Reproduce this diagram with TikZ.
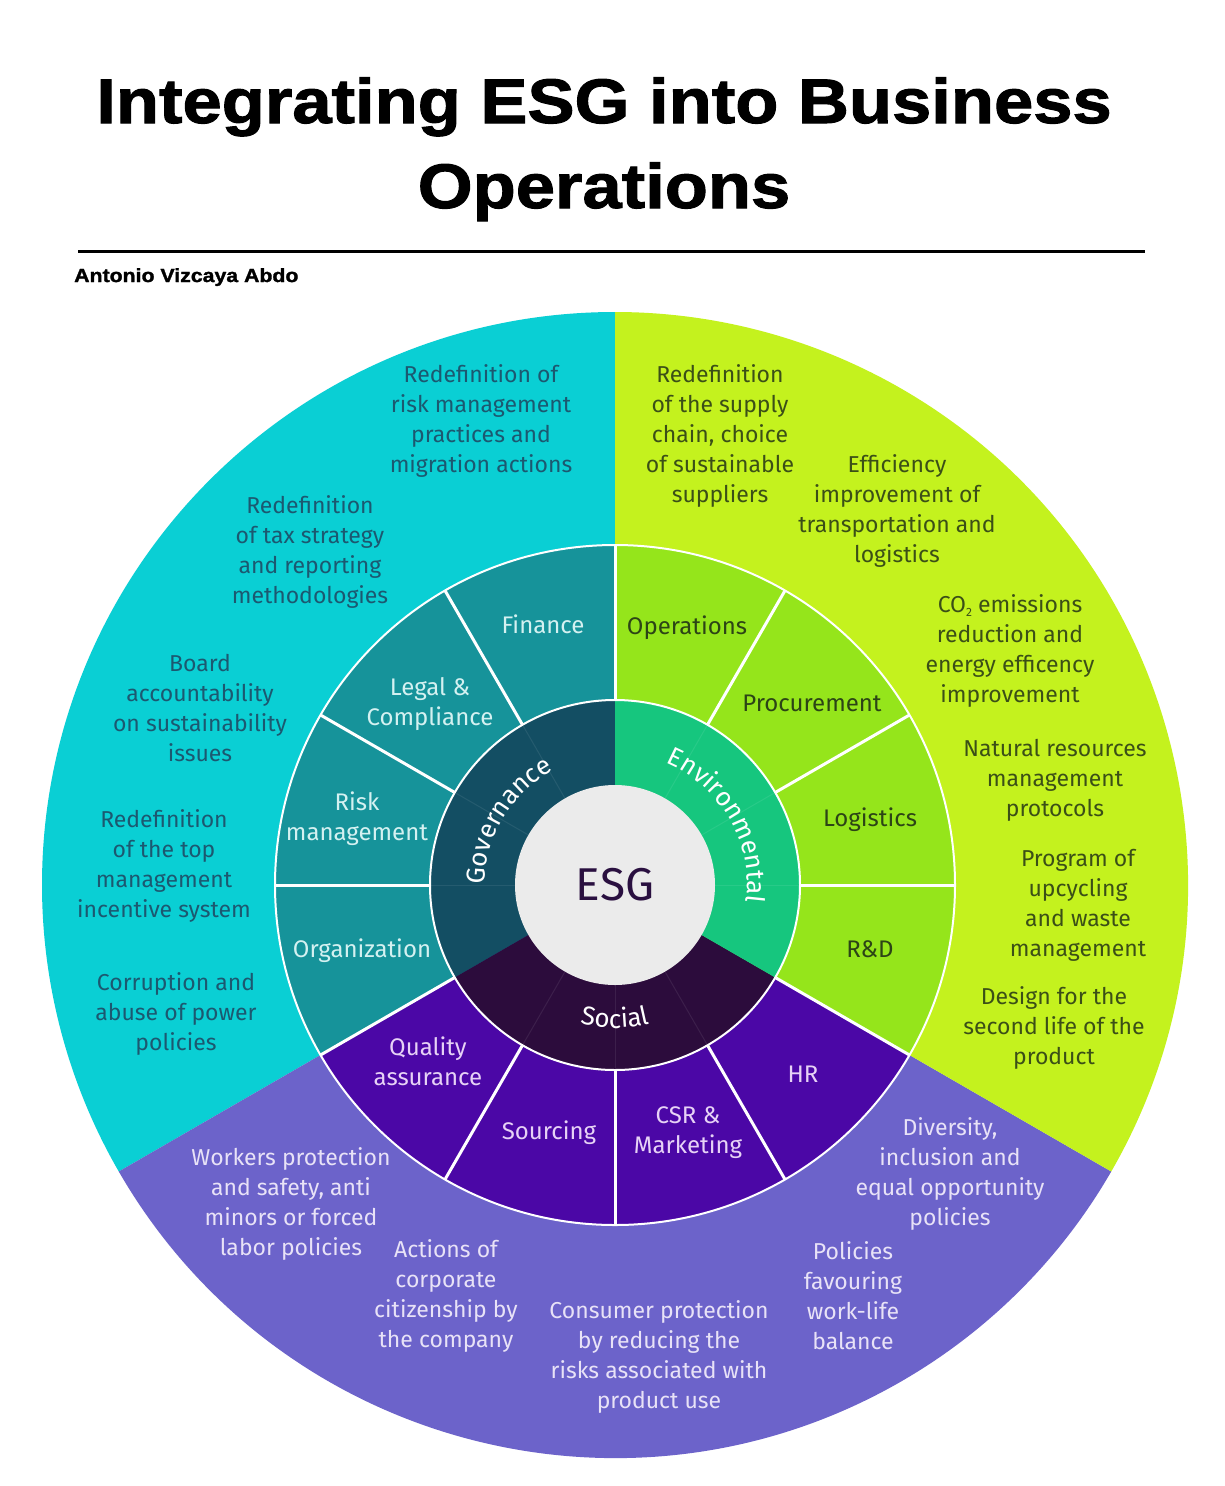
\documentclass[tikz,border=0pt]{standalone}
\usepackage{fontspec}
\setmainfont{Fira Sans}
\newfontfamily\titlefont{Liberation Sans}[FakeStretch=1.12,FakeBold=1.6]
\usetikzlibrary{decorations.text}
\definecolor{govout}{HTML}{0ACFD4}
\definecolor{envout}{HTML}{C4F21E}
\definecolor{socout}{HTML}{6C63CA}
\definecolor{govmid}{HTML}{16939A}
\definecolor{envmid}{HTML}{95E51B}
\definecolor{socmid}{HTML}{4B07A6}
\definecolor{govin}{HTML}{134E63}
\definecolor{envin}{HTML}{16C67E}
\definecolor{socin}{HTML}{2C0C3C}
\definecolor{centergray}{HTML}{EBEBEB}
\definecolor{esgtext}{HTML}{2A1040}
\definecolor{govtext}{HTML}{1C5870}
\definecolor{envtext}{HTML}{3B4F17}
\definecolor{soctext}{HTML}{E8E2F7}
\definecolor{govmidtext}{HTML}{D4F1F1}
\definecolor{envmidtext}{HTML}{2C4416}
\definecolor{socmidtext}{HTML}{E7D2F6}
\begin{document}
\begin{tikzpicture}[x=1pt,y=1pt,
  outertext/.style={align=center, inner sep=0pt, font=\fontsize{23}{30}\selectfont},
  midtext/.style={align=center, inner sep=0pt, font=\fontsize{24}{30}\selectfont},
  gout/.style={outertext, text=govtext},
  eout/.style={outertext, text=envtext},
  sout/.style={outertext, text=soctext},
  gmid/.style={midtext, text=govmidtext},
  emid/.style={midtext, text=envmidtext},
  smid/.style={midtext, text=socmidtext},
  sepline/.style={white, line width=3pt},
  ringline/.style={white, line width=2pt},
  faintline/.style={white, opacity=0.08, line width=1pt},
  arclabel/.style={decorate, decoration={text along path, text align=center,
     text color=white}}
]
\useasboundingbox (0,0) rectangle (1225,-1486);
\fill[white] (0,0) rectangle (1225,-1486);

% title
\node[font=\titlefont\bfseries\fontsize{63}{63}\selectfont, anchor=base] (title1) at (604,-123) {Integrating ESG into Business};
\node[font=\titlefont\bfseries\fontsize{63}{63}\selectfont, anchor=base] (title2) at (604,-208) {Operations};
\coordinate (ruleL) at (78,-251);
\coordinate (ruleR) at (1145,-251);
\draw[line width=3pt] (ruleL) -- (ruleR);
\node[font=\titlefont\bfseries\fontsize{19}{19}\selectfont, anchor=base west, inner sep=0pt] (author) at (74,-282) {Antonio Vizcaya Abdo};

\begin{scope}[shift={(615,-885)}]
\coordinate (C) at (0,0);
% outer ring
\fill[govout] (C) -- (90:573) arc[start angle=90, end angle=210, radius=573] -- cycle;
\fill[socout] (C) -- (210:573) arc[start angle=210, end angle=330, radius=573] -- cycle;
\fill[envout] (C) -- (-30:573) arc[start angle=-30, end angle=90, radius=573] -- cycle;
% middle ring
\fill[govmid] (C) -- (90:340) arc[start angle=90, end angle=210, radius=340] -- cycle;
\fill[socmid] (C) -- (210:340) arc[start angle=210, end angle=330, radius=340] -- cycle;
\fill[envmid] (C) -- (-30:340) arc[start angle=-30, end angle=90, radius=340] -- cycle;
\foreach \a in {0,30,...,330} {\draw[sepline] (\a:185) -- (\a:340);}
\draw[ringline] (C) circle[radius=340];
% inner ring
\fill[govin] (C) -- (90:185) arc[start angle=90, end angle=210, radius=185] -- cycle;
\fill[socin] (C) -- (210:185) arc[start angle=210, end angle=330, radius=185] -- cycle;
\fill[envin] (C) -- (-30:185) arc[start angle=-30, end angle=90, radius=185] -- cycle;
\foreach \a in {0,30,60,120,150,180,240,270,300} {\draw[faintline] (\a:100) -- (\a:185);}
\draw[ringline] (C) circle[radius=185];
% centre
\fill[centergray] (C) circle[radius=100];
\node[font=\fontsize{46}{46}\selectfont, text=esgtext] (esg) at (C) {ESG};
% curved labels
\path[arclabel, decoration={text={|\fontsize{26}{26}\selectfont|Governance}}]
  (205:130) arc[start angle=205, end angle=93, radius=130];
\path[arclabel, decoration={text={|\fontsize{26}{26}\selectfont|Environmental}}]
  (87:132) arc[start angle=87, end angle=-27, radius=132];
\path[arclabel, decoration={text={|\fontsize{26}{26}\selectfont|Social}}]
  (235:143) arc[start angle=235, end angle=305, radius=143];
\end{scope}

% middle ring labels
\node[gmid, text height=17pt, text depth=5pt] (finance) at (543,-627) {Finance};
\node[gmid] (legal) at (430,-704) {Legal \&\\Compliance};
\node[gmid] (risk) at (357,-819) {Risk\\management};
\node[gmid, text height=17pt, text depth=5pt] (organization) at (362,-951) {Organization};
\node[emid, text height=17pt, text depth=5pt] (operations) at (687,-628) {Operations};
\node[emid, text height=17pt, text depth=5pt] (procurement) at (812,-705) {Procurement};
\node[emid, text height=17pt, text depth=5pt] (logistics) at (870,-820) {Logistics};
\node[emid, text height=17pt, text depth=5pt] (rnd) at (870,-951) {R\&D};
\node[smid] (quality) at (428,-1061) {Quality\\assurance};
\node[smid, text height=17pt, text depth=5pt] (sourcing) at (549,-1133) {Sourcing};
\node[smid] (csr) at (688,-1133) {CSR \&\\Marketing};
\node[smid, text height=17pt, text depth=5pt] (hr) at (803,-1076) {HR};

% governance outer texts
\node[gout] (g1) at (481,-421) {Redefinition of\\risk management\\practices and\\migration actions};
\node[gout] (g2) at (310,-552) {Redefinition\\of tax strategy\\and reporting\\methodologies};
\node[gout] (g3) at (200,-708) {Board\\accountability\\on sustainability\\issues};
\node[gout] (g4) at (164,-866) {Redefinition\\of the top\\management\\incentive system};
\node[gout] (g5) at (176,-1014) {Corruption and\\abuse of power\\policies};

% environmental outer texts
\node[eout] (e1) at (720,-436) {Redefinition\\of the supply\\chain, choice\\of sustainable\\suppliers};
\node[eout] (e2) at (897,-511) {Efficiency\\improvement of\\transportation and\\logistics};
\node[eout] (e3) at (1010,-651) {CO\raisebox{-0.35ex}{\fontsize{12}{12}\selectfont 2} emissions\\reduction and\\energy efficency\\improvement};
\node[eout] (e4) at (1055,-780) {Natural resources\\management\\protocols};
\node[eout] (e5) at (1078,-905) {Program of\\upcycling\\and waste\\management};
\node[eout] (e6) at (1054,-1028) {Design for the\\second life of the\\product};

% social outer texts
\node[sout] (s1) at (291,-1204) {Workers protection\\and safety, anti\\minors or forced\\labor policies};
\node[sout] (s2) at (446,-1296) {Actions of\\corporate\\citizenship by\\the company};
\node[sout] (s3) at (659,-1357) {Consumer protection\\by reducing the\\risks associated with\\product use};
\node[sout] (s4) at (853,-1296) {Policies\\favouring\\work-life\\balance};
\node[sout] (s5) at (950,-1174) {Diversity,\\inclusion and\\equal opportunity\\policies};
\end{tikzpicture}
\end{document}
